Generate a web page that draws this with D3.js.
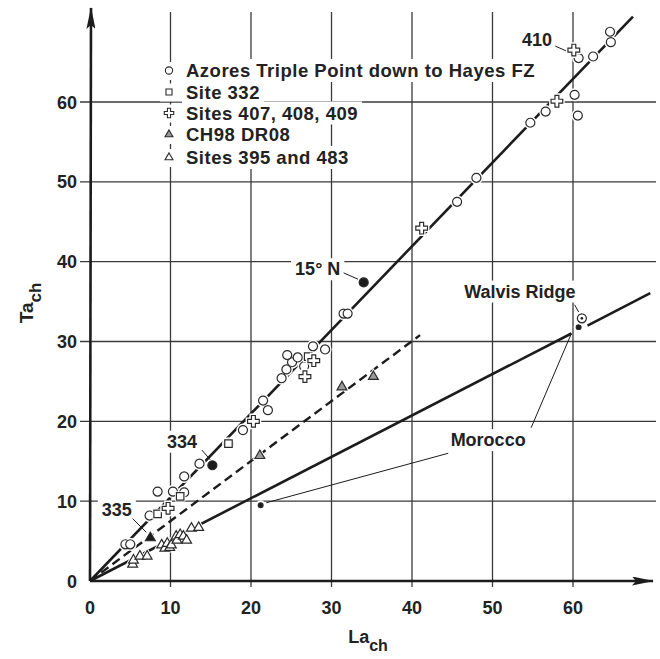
<!DOCTYPE html>
<html>
<head>
<meta charset="utf-8">
<script src="https://cdn.jsdelivr.net/npm/d3@7"></script>
<style>
  body { margin: 0; background: #fff; }
  svg text { font-family: "Liberation Sans", Arial, sans-serif; font-weight: bold; fill: #222; }
</style>
</head>
<body>
<div id="chart"></div>
<script>
// ---- data (La_ch, Ta_ch) ----
const azores = [
    [4.4, 4.6], [5.0, 4.6], [7.4, 8.2], [8.4, 11.2], [10.3, 11.2], [11.7, 11.1],
    [11.7, 13.1], [13.6, 14.7], [17.2, 17.2], [19.0, 18.9], [21.5, 22.6], [22.1, 21.4],
    [23.8, 25.4], [24.4, 26.5], [25.1, 27.4], [24.5, 28.3], [25.8, 28.0], [26.6, 26.9],
    [27.7, 29.4], [29.2, 29.0], [31.5, 33.5], [32.0, 33.5], [45.6, 47.5], [48.0, 50.5],
    [54.7, 57.4], [56.6, 58.8], [60.2, 60.9], [60.6, 58.3], [60.7, 65.5], [62.5, 65.7],
    [64.6, 68.8], [64.7, 67.5]
];
const site332 = [[8.4, 8.4], [11.2, 10.6], [17.2, 17.2], [27.1, 28.1]];
const sites407 = [[9.7, 9.1], [20.3, 20.0], [26.7, 25.6], [27.8, 27.6], [41.2, 44.2], [58.0, 60.1], [60.1, 66.5]];
const ch98 = [[21.1, 15.7], [31.3, 24.3], [35.2, 25.6]];
const site335Tri = [[7.5, 5.4]];
const sites395 = [
    [5.3, 2.1], [5.4, 2.6], [6.2, 3.1], [7.1, 3.1], [8.9, 4.5], [9.3, 4.1], [9.6, 4.7],
    [9.9, 4.2], [10.1, 4.5], [10.7, 5.6], [10.8, 5.1], [11.2, 5.8], [11.6, 5.6], [12.0, 5.1],
    [12.6, 6.6], [13.5, 6.7]
];
const labelledDots = [[34.0, 37.4], [15.2, 14.5]];   // 15°N, 334
const moroccoDots = [[21.2, 9.5], [60.7, 31.8]];
const walvis = [[61.1, 32.9]];

// trend lines
const lineA = [[0, 0], [67.45, 70.7]];
const lineB = [[0, 0], [41.0, 30.8]];
const lineC1 = [[0, 0], [59.8, 31.0]];
const lineC2 = [[61.8, 32.0], [69.6, 36.05]];

const xTicks = [0, 10, 20, 30, 40, 50, 60];
const yTicks = [0, 10, 20, 30, 40, 50, 60];

const legendItems = [
    {sym: "circle", text: "Azores Triple Point down to Hayes FZ"},
    {sym: "square", text: "Site 332"},
    {sym: "cross", text: "Sites 407, 408, 409"},
    {sym: "grayTri", text: "CH98 DR08"},
    {sym: "tri", text: "Sites 395 and 483"}
];

// annotations: text anchor point and leader lines, in data units
const notes = [
    {text: "410", at: [57.4, 67.0], anchor: "end", leaders: [[[57.8, 67.0], [59.6, 66.2]]]},
    {text: "15° N", at: [31.1, 38.3], anchor: "end", leaders: [[[31.5, 38.6], [33.3, 37.8]]]},
    {text: "334", at: [13.3, 16.7], anchor: "end", leaders: [[[13.9, 16.4], [15.1, 15.0]]]},
    {text: "335", at: [5.2, 8.1], anchor: "end", leaders: [[[5.3, 7.8], [7.0, 6.1]]]},
    {text: "Walvis Ridge", at: [53.4, 35.5], anchor: "middle", leaders: [[[60.2, 34.6], [60.7, 33.7]]]},
    {text: "Morocco", at: [44.8, 16.9], anchor: "start",
        leaders: [[[54.8, 19.2], [59.8, 31.0]], [[44.5, 16.0], [21.9, 9.8]]]}
];

// ---- drawing ----
const W = 660, H = 659;
const ink = "#1c1c1c";

const svg = d3.select("#chart").append("svg")
    .attr("width", W)
    .attr("height", H);

const x = d3.scaleLinear().domain([0, 60]).range([90, 573]);
const y = d3.scaleLinear().domain([0, 60]).range([581, 102]);

const gGrid = svg.append("g");
const gBg = svg.append("g");
const gAxes = svg.append("g");
const gLines = svg.append("g");
const gLeaders = svg.append("g");
const gMarks = svg.append("g");
const gText = svg.append("g");

// grid
gGrid.selectAll(".vg").data(xTicks.slice(1)).enter().append("line")
    .attr("x1", d => x(d)).attr("x2", d => x(d))
    .attr("y1", y(0) + 6).attr("y2", 12)
    .attr("stroke", "#3a3a3a").attr("stroke-width", 1.3);
gGrid.selectAll(".hg").data(yTicks.slice(1)).enter().append("line")
    .attr("y1", d => y(d)).attr("y2", d => y(d))
    .attr("x1", x(0) - 10).attr("x2", 656)
    .attr("stroke", "#3a3a3a").attr("stroke-width", 1.3);

// axes with arrowheads
svg.append("defs").append("marker")
    .attr("id", "arrow")
    .attr("viewBox", "0 0 22 9")
    .attr("refX", 21).attr("refY", 4.5)
    .attr("markerWidth", 22).attr("markerHeight", 9)
    .attr("markerUnits", "userSpaceOnUse")
    .attr("orient", "auto")
    .append("path")
    .attr("d", "M0,0 L22,4.5 L0,9 L4,4.5 Z")
    .attr("fill", ink);

gAxes.append("line")
    .attr("x1", x(0)).attr("y1", y(0)).attr("x2", 653).attr("y2", y(0))
    .attr("stroke", ink).attr("stroke-width", 2.6).attr("marker-end", "url(#arrow)");
gAxes.append("line")
    .attr("x1", x(0)).attr("y1", y(0)).attr("x2", x(0) + 1).attr("y2", 8)
    .attr("stroke", ink).attr("stroke-width", 2.6).attr("marker-end", "url(#arrow)");

gText.selectAll(".xt").data(xTicks).enter().append("text")
    .attr("x", d => x(d)).attr("y", 614)
    .attr("text-anchor", "middle").attr("font-size", 18)
    .text(d => d);
gText.selectAll(".yt").data(yTicks).enter().append("text")
    .attr("x", 77).attr("y", d => y(d) + 6.5)
    .attr("text-anchor", "end").attr("font-size", 18)
    .text(d => d);

// axis titles
const xt = gText.append("text").attr("x", 368).attr("y", 643)
    .attr("text-anchor", "middle").attr("font-size", 18);
xt.append("tspan").text("La");
xt.append("tspan").attr("dy", 8).attr("font-size", 16).text("ch");

const yt = gText.append("text")
    .attr("transform", "translate(33,303) rotate(-90)")
    .attr("text-anchor", "middle").attr("font-size", 19);
yt.append("tspan").text("Ta");
yt.append("tspan").attr("dy", 8).attr("font-size", 17).text("ch");

// trend lines
const line = d3.line().x(d => x(d[0])).y(d => y(d[1]));
[lineA, lineC1, lineC2].forEach(l => {
    gLines.append("path").attr("d", line(l))
        .attr("fill", "none").attr("stroke", ink).attr("stroke-width", 2.6);
});
gLines.append("path").attr("d", line(lineB))
    .attr("fill", "none").attr("stroke", ink).attr("stroke-width", 2.4)
    .attr("stroke-dasharray", "9,5");

// symbols
const symbolTypes = {
    circle: {type: d3.symbolCircle, size: 64, fill: "#fff"},
    square: {type: d3.symbolSquare, size: 56, fill: "#fff"},
    cross: {type: d3.symbolCross, size: 76, fill: "#fff"},
    grayTri: {type: d3.symbolTriangle, size: 42, fill: "#9a9a9a"},
    blackTri: {type: d3.symbolTriangle, size: 42, fill: ink},
    tri: {type: d3.symbolTriangle, size: 42, fill: "#fff"},
    dot: {type: d3.symbolCircle, size: 64, fill: ink},
    smallDot: {type: d3.symbolCircle, size: 18, fill: ink}
};

function drawMarks(data, key, halo) {
    let s = symbolTypes[key];
    let sym = d3.symbol().type(s.type).size(s.size);
    let g = gMarks.append("g");
    if (halo) {
        g.selectAll(".halo").data(data).enter().append("path")
            .attr("d", sym)
            .attr("transform", d => "translate(" + x(d[0]) + "," + y(d[1]) + ")")
            .attr("fill", "#fff").attr("stroke", "#fff").attr("stroke-width", halo);
    }
    g.selectAll(".mark").data(data).enter().append("path")
        .attr("d", sym)
        .attr("transform", d => "translate(" + x(d[0]) + "," + y(d[1]) + ")")
        .attr("fill", s.fill).attr("stroke", "#2a2a2a").attr("stroke-width", 1.2);
}

drawMarks(sites395, "tri", 3);
drawMarks(site335Tri, "blackTri", 3);
drawMarks(ch98, "grayTri", 3);
drawMarks(azores, "circle", 4);
drawMarks(site332, "square", 3);
drawMarks(sites407, "cross", 4);
drawMarks(labelledDots, "dot", 3);
drawMarks(moroccoDots, "smallDot", 5);
drawMarks(walvis, "circle", 4);
gMarks.selectAll(".wdot").data(walvis).enter().append("circle")
    .attr("cx", d => x(d[0])).attr("cy", d => y(d[1])).attr("r", 1.3).attr("fill", ink);

// annotations
function addLabel(txt, px, py, anchor, size, spacing) {
    let t = gText.append("text")
        .attr("x", px).attr("y", py)
        .attr("text-anchor", anchor).attr("font-size", size)
        .attr("letter-spacing", spacing || 0)
        .text(txt);
    let b = t.node().getBBox();
    gBg.append("rect")
        .attr("x", b.x - 4).attr("y", b.y - 1)
        .attr("width", b.width + 8).attr("height", b.height + 2)
        .attr("fill", "#fff");
    return t;
}

notes.forEach(n => {
    addLabel(n.text, x(n.at[0]), y(n.at[1]), n.anchor, 18);
    n.leaders.forEach(l => {
        gLeaders.append("path").attr("d", line(l))
            .attr("fill", "none").attr("stroke", ink).attr("stroke-width", 1);
    });
});

// legend
const legendX = 186, legendRowY = [77, 98.5, 119.5, 141, 164];
legendItems.forEach((item, i) => {
    addLabel(item.text, legendX, legendRowY[i], "start", 18.5, 0.5);
    let s = symbolTypes[item.sym];
    gBg.append("rect")
        .attr("x", 160).attr("y", legendRowY[i] - 15)
        .attr("width", 28).attr("height", 18).attr("fill", "#fff");
    gText.append("path")
        .attr("d", d3.symbol().type(s.type).size(s.size * 0.65))
        .attr("transform", "translate(169," + (legendRowY[i] - 6.5) + ")")
        .attr("fill", s.fill).attr("stroke", "#2a2a2a").attr("stroke-width", 1.1);
});
</script>
</body>
</html>
